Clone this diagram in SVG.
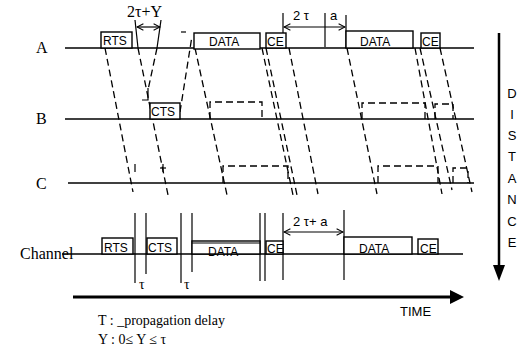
<svg xmlns="http://www.w3.org/2000/svg" width="524" height="354" viewBox="0 0 524 354">
<style>
.bg{fill:#fff}
.ln{stroke:#000;stroke-width:1.6;fill:none}
.tl{stroke:#000;stroke-width:1.2;fill:none}
.box{stroke:#000;stroke-width:1.4;fill:#fff}
.ds{stroke:#000;stroke-width:1.3;fill:none;stroke-dasharray:7 4}
.bl{font-family:"Liberation Sans",Arial,sans-serif;font-size:12px;fill:#000}
.sn{font-family:"Liberation Sans",Arial,sans-serif;font-size:13px;fill:#000}
.sr{font-family:"Liberation Serif","Times New Roman",serif;font-size:16px;fill:#000}
.sm{font-family:"Liberation Serif","Times New Roman",serif;font-size:14px;fill:#000}
</style>
<defs>
<marker id="oa" viewBox="0 0 10 10" refX="9" refY="5" markerWidth="8" markerHeight="8" orient="auto-start-reverse" markerUnits="userSpaceOnUse">
<path d="M1,1 L9,5 L1,9" fill="none" stroke="#000" stroke-width="1.3"/>
</marker>
</defs>
<rect class="bg" width="524" height="354"/>

<g id="station-lines">
<text class="sr" x="36" y="53">A</text>
<line class="ln" x1="65" y1="48" x2="474" y2="48"/>
<text class="sr" x="36" y="124">B</text>
<line class="ln" x1="65" y1="119" x2="474" y2="119"/>
<text class="sr" x="36" y="189">C</text>
<line class="ln" x1="68" y1="183" x2="474" y2="183"/>
<text class="sr" x="20" y="259">Channel</text>
<line class="ln" x1="62" y1="254" x2="463" y2="254"/>
</g>

<g id="connectors">
<line class="ds" x1="105" y1="48" x2="133" y2="192"/>
<line class="tl" x1="135" y1="20" x2="138" y2="48"/>
<line class="ds" x1="138" y1="48" x2="168" y2="195"/>
<line class="tl" x1="161" y1="20" x2="157" y2="48"/>
<line class="ds" x1="157" y1="48" x2="148" y2="90"/>
<polyline class="tl" points="148,88 148,100 142,100"/>
<line class="ds" x1="180" y1="112" x2="192" y2="36"/>
<line class="tl" x1="181" y1="32" x2="186" y2="32"/>
<line class="ds" x1="195" y1="48" x2="227" y2="195"/>
<line class="ds" x1="262" y1="48" x2="293" y2="195"/>
<line class="ds" x1="266" y1="48" x2="297" y2="195"/>
<line class="ds" x1="289" y1="48" x2="318" y2="194"/>
<line class="ds" x1="347" y1="48" x2="377" y2="194"/>
<line class="ds" x1="415" y1="48" x2="442" y2="194"/>
<line class="ds" x1="420" y1="48" x2="452" y2="190"/>
<line class="ds" x1="440" y1="48" x2="472" y2="192"/>
<line class="tl" x1="135" y1="164" x2="135" y2="172"/>
<line class="tl" x1="160" y1="168" x2="166" y2="168"/>
<line class="tl" x1="163" y1="164" x2="163" y2="172"/>
<polyline class="ds" points="210,119 210,102 262,102 262,119"/>
<polyline class="ds" points="362,119 362,103 425,103 425,119"/>
<polyline class="ds" points="435,119 435,104 453,104 453,119"/>
<polyline class="ds" points="223,183 223,166 288,166 288,183"/>
<polyline class="ds" points="378,183 378,166 438,166 438,183"/>
<polyline class="ds" points="453,183 453,168 468,168 468,183"/>
<line class="tl" x1="135" y1="213" x2="135" y2="283"/>
<line class="tl" x1="146" y1="213" x2="146" y2="274"/>
<line class="tl" x1="181" y1="213" x2="181" y2="283"/>
<line class="tl" x1="192" y1="213" x2="192" y2="272"/>
<line class="tl" x1="260" y1="213" x2="260" y2="281"/>
<line class="tl" x1="265" y1="213" x2="265" y2="281"/>
<line class="tl" x1="283" y1="213" x2="283" y2="280"/>
<line class="tl" x1="344" y1="210" x2="344" y2="280"/>
<line class="tl" x1="283" y1="13" x2="283" y2="48"/>
<line class="tl" x1="325" y1="13" x2="325" y2="47"/>
<line class="tl" x1="346" y1="15" x2="346" y2="48"/>
<line class="tl" x1="137" y1="27" x2="160" y2="27" marker-start="url(#oa)" marker-end="url(#oa)"/>
<line class="tl" x1="284" y1="27" x2="345" y2="27" marker-start="url(#oa)" marker-end="url(#oa)"/>
<line class="tl" x1="284" y1="232" x2="343" y2="232" marker-start="url(#oa)" marker-end="url(#oa)"/>
</g>

<g id="A-RTS"><rect class="box" x="101" y="32" width="31" height="16"/><text class="bl" x="103" y="45">RTS</text></g>
<g id="A-DATA1"><rect class="box" x="194" y="33" width="66" height="16"/><text class="bl" x="209" y="46">DATA</text></g>
<g id="A-CE1"><rect class="box" x="266" y="33" width="20" height="15"/><text class="bl" x="267" y="46">CE</text></g>
<g id="A-DATA2"><rect class="box" x="346" y="31" width="67" height="17"/><text class="bl" x="360" y="46">DATA</text></g>
<g id="A-CE2"><rect class="box" x="421" y="33" width="19" height="15"/><text class="bl" x="422" y="46">CE</text></g>
<g id="B-CTS"><rect class="box" x="150" y="103" width="30" height="16"/><text class="bl" x="151" y="116">CTS</text></g>

<g id="CH-RTS"><rect class="box" x="102" y="238" width="31" height="16"/><text class="bl" x="104" y="252">RTS</text></g>
<g id="CH-CTS"><rect class="box" x="147" y="238" width="30" height="16"/><text class="bl" x="148" y="252">CTS</text></g>
<g id="CH-DATA1"><rect class="box" x="192" y="241" width="68" height="13"/><line class="tl" x1="192" y1="243" x2="260" y2="243"/><text class="bl" x="208" y="256">DATA</text></g>
<g id="CH-CE1"><rect class="box" x="266" y="241" width="17" height="13"/><text class="bl" x="267" y="253">CE</text></g>
<g id="CH-DATA2"><rect class="box" x="344" y="237" width="68" height="17"/><text class="bl" x="359" y="253">DATA</text></g>
<g id="CH-CE2"><rect class="box" x="418" y="239" width="20" height="15"/><text class="bl" x="420" y="253">CE</text></g>

<g id="labels">
<text class="sr" x="127" y="17" font-size="15">2τ+Y</text>
<text class="sn" x="293" y="20">2 τ</text>
<text class="sn" x="330" y="20">a</text>
<text class="sn" x="293" y="226">2 τ+ a</text>
<text class="sm" x="139" y="289">τ</text>
<text class="sm" x="184" y="289">τ</text>
</g>

<g id="time-axis">
<line x1="73" y1="297" x2="453" y2="297" stroke="#000" stroke-width="3"/>
<polygon points="450,290 464,297 450,304" fill="#000"/>
<text class="sn" x="400" y="316">TIME</text>
</g>

<g id="distance-axis">
<line x1="499" y1="33" x2="499" y2="268" stroke="#000" stroke-width="2.5"/>
<polygon points="493,265 499,281 505,265" fill="#000"/>
<g class="sn" text-anchor="middle">
<text x="512" y="98">D</text>
<text x="512" y="119">I</text>
<text x="512" y="140">S</text>
<text x="512" y="161">T</text>
<text x="512" y="183">A</text>
<text x="512" y="204">N</text>
<text x="512" y="226">C</text>
<text x="512" y="247">E</text>
</g>
</g>

<g id="legend">
<text class="sm" x="98" y="325">T : _propagation delay</text>
<text class="sm" x="98" y="344">Y : 0≤ Y ≤ τ</text>
</g>
</svg>
